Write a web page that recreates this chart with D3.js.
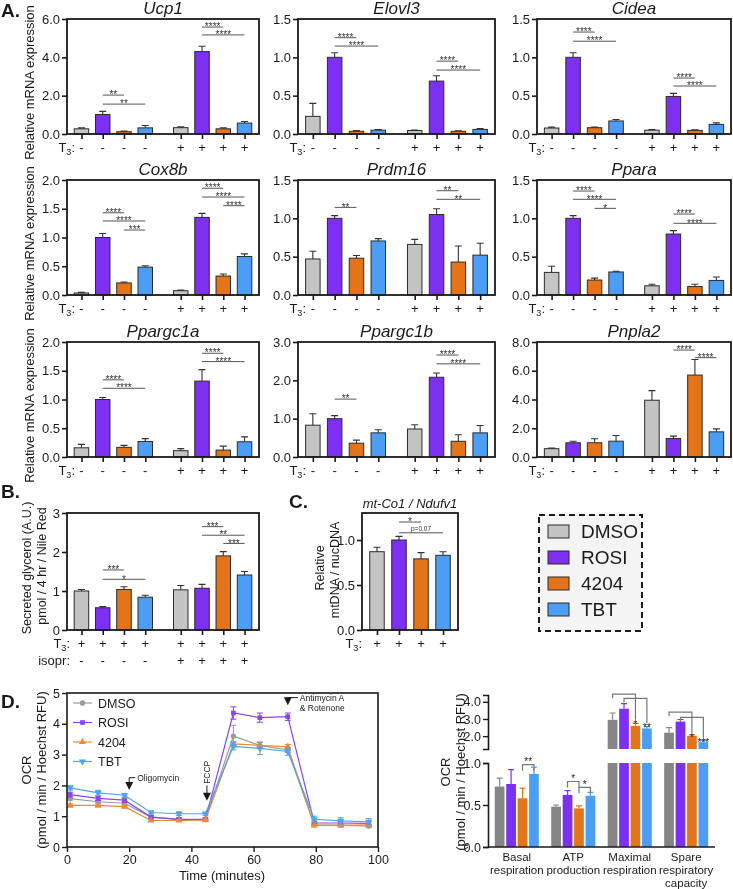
<!DOCTYPE html>
<html><head><meta charset="utf-8">
<script src="https://cdn.jsdelivr.net/npm/d3@7"></script>
<style>body{margin:0;background:#fff;} svg{display:block;font-family:"Liberation Sans",Arial,Helvetica,sans-serif;will-change:transform;}</style>
</head><body><svg id="c" width="733" height="889"></svg>
<script>
const treatments = ["DMSO","ROSI","4204","TBT"];
const fills = ["#c4c4c4","#7d2ff2","#e3741a","#4b9df5"];
const t3Row = ["-","-","-","-","+","+","+","+"];
const isoprRow = ["-","-","-","-","+","+","+","+"];
const barSlots = [0,1,2,3,4.67,5.67,6.67,7.67];

const Ucp1 = [0.27,1.02,0.12,0.32, 0.33,4.3,0.27,0.57];
const Ucp1Err = [0.05,0.16,0.04,0.12, 0.04,0.28,0.05,0.08];
const Ucp1Sig = [[1,2,2.03,"**"],[1,3,1.56,"**"],[5,6,5.58,"****"],[5,7,5.17,"****"]];
const Elovl3 = [0.23,1.0,0.035,0.05, 0.045,0.69,0.035,0.06];
const Elovl3Err = [0.17,0.06,0.01,0.008, 0.008,0.07,0.008,0.012];
const Elovl3Sig = [[1,2,1.256,"****"],[1,3,1.147,"****"],[5,6,0.95,"****"],[5,7,0.834,"****"]];
const Cidea = [0.078,1.0,0.082,0.17, 0.05,0.49,0.047,0.125];
const CideaErr = [0.012,0.06,0.008,0.02, 0.008,0.04,0.008,0.02];
const CideaSig = [[1,2,1.33,"****"],[1,3,1.21,"****"],[5,6,0.73,"****"],[5,7,0.626,"****"]];
const Cox8b = [0.035,1.0,0.21,0.485, 0.075,1.35,0.33,0.67];
const Cox8bErr = [0.01,0.07,0.015,0.025, 0.01,0.07,0.035,0.045];
const Cox8bSig = [[1,2,1.43,"****"],[1,3,1.287,"****"],[2,3,1.13,"***"],[5,6,1.856,"****"],[5,7,1.704,"****"],[6,7,1.553,"****"]];
const Prdm16 = [0.47,1.0,0.48,0.705, 0.66,1.05,0.43,0.52];
const Prdm16Err = [0.1,0.035,0.035,0.03, 0.065,0.075,0.21,0.155];
const Prdm16Sig = [[1,2,1.143,"**"],[5,6,1.36,"**"],[5,7,1.248,"**"]];
const Ppara = [0.295,1.0,0.195,0.3, 0.12,0.795,0.11,0.19];
const PparaErr = [0.08,0.035,0.025,0.01, 0.02,0.045,0.03,0.045];
const PparaSig = [[1,2,1.356,"****"],[1,3,1.248,"****"],[2,3,1.13,"*"],[5,6,1.056,"****"],[5,7,0.935,"****"]];
const Ppargc1a = [0.16,1.0,0.168,0.27, 0.11,1.32,0.12,0.265];
const Ppargc1aErr = [0.06,0.035,0.035,0.05, 0.035,0.2,0.07,0.085];
const Ppargc1aSig = [[1,2,1.342,"****"],[1,3,1.195,"****"],[5,6,1.804,"****"],[5,7,1.659,"****"]];
const Ppargc1b = [0.83,1.0,0.36,0.63, 0.73,2.08,0.41,0.63];
const Ppargc1bErr = [0.3,0.08,0.08,0.08, 0.11,0.11,0.17,0.19];
const Ppargc1bSig = [[1,2,1.51,"**"],[5,6,2.66,"****"],[5,7,2.43,"****"]];
const Pnpla2 = [0.58,0.99,0.99,1.1, 3.95,1.29,5.7,1.75];
const Pnpla2Err = [0.04,0.11,0.28,0.4, 0.67,0.16,1.08,0.21];
const Pnpla2Sig = [[5,6,7.44,"****"],[6,7,6.91,"****"]];

const glycerol = [1.0,0.57,1.04,0.84, 1.03,1.07,1.9,1.41];
const glycerolErr = [0.04,0.03,0.07,0.05, 0.11,0.1,0.11,0.09];
const glycerolSig = [[1,2,1.54,"***"],[1,3,1.3,"*"],[5,6,2.65,"***"],[5,7,2.43,"**"],[6,7,2.22,"***"]];

const mtDNA = [0.87,1.0,0.79,0.83];
const mtDNAErr = [0.05,0.04,0.07,0.04];
const mtDNASig = [[1,2,1.2,"*"],[1,3,1.08,"p=0.07"]];

const timeMin = [1,10,18.5,27,36,44.5,53.5,62,71,79.5,88,97];
const ocrDMSO = [1.57,1.47,1.42,0.97,0.9,0.89,3.6,3.3,3.15,0.72,0.71,0.68];
const ocrDMSOErr = [0.05,0.05,0.05,0.04,0.04,0.03,0.35,0.1,0.08,0.05,0.05,0.05];
const ocrROSI = [1.7,1.58,1.52,0.97,0.9,0.9,4.35,4.2,4.23,0.78,0.78,0.77];
const ocrROSIErr = [0.08,0.07,0.07,0.05,0.04,0.04,0.2,0.15,0.12,0.06,0.06,0.06];
const ocr4204 = [1.35,1.35,1.31,0.86,0.86,0.87,3.35,3.3,3.25,0.7,0.7,0.72];
const ocr4204Err = [0.05,0.05,0.04,0.03,0.03,0.03,0.08,0.1,0.08,0.03,0.03,0.03];
const ocrTBT = [1.92,1.76,1.68,1.12,1.08,1.08,3.27,3.2,3.1,0.9,0.85,0.82];
const ocrTBTErr = [0.07,0.08,0.06,0.05,0.06,0.05,0.12,0.2,0.12,0.1,0.1,0.1];

const respCats = ["Basal respiration","ATP production","Maximal respiration","Spare respiratory capacity"];
const respDMSO = [0.72,0.48,2.95,2.2];
const respDMSOErr = [0.1,0.02,0.4,0.3];
const respROSI = [0.75,0.62,3.6,2.85];
const respROSIErr = [0.17,0.05,0.3,0.12];
const resp4204 = [0.58,0.46,2.6,2.02];
const resp4204Err = [0.12,0.03,0.15,0.05];
const respTBT = [0.87,0.61,2.45,1.65];
const respTBTErr = [0.08,0.04,0.1,0.1];
// [category, from treatment, to treatment, bracket level, label]
const respSig = [[0,2,3,0.98,"**"],[1,1,2,0.78,"*"],[1,2,3,0.71,"*"]];

const svg = d3.select("#c");
const INK = "#1a1a1a";

function t3Label(g, x, y, word) {
  const t = g.append("text").attr("x", x).attr("y", y).attr("text-anchor", "end").attr("font-size", 13).attr("fill", INK);
  t.append("tspan").text(word);
  t.append("tspan").attr("font-size", 9).attr("dy", 3).text("3");
  t.append("tspan").attr("dy", -3).text(":");
}

function barPanel(o) {
  const g = svg.append("g");
  const x = d3.scaleLinear().domain(o.xdom).range([o.x0, o.x1]);
  const y = d3.scaleLinear().domain([0, o.max]).range([o.y1, o.y0]);
  const bw = o.bw || 14.5;
  const data = o.means.map((m, i) => ({m, e: o.errs[i], s: o.slots[i], c: fills[i % 4]}));
  g.selectAll(null).data(data).join("path")
    .attr("d", d => `M${x(d.s)},${y(d.m)}V${y(d.m + d.e)}M${x(d.s) - 3.5},${y(d.m + d.e)}H${x(d.s) + 3.5}`)
    .attr("stroke", "#333").attr("stroke-width", 1.1).attr("fill", "none");
  g.selectAll(null).data(data).join("rect")
    .attr("x", d => x(d.s) - bw / 2).attr("y", d => y(d.m)).attr("width", bw).attr("height", d => y(0) - y(d.m))
    .attr("fill", d => d.c).attr("stroke", "#2b2b2b").attr("stroke-width", 1);
  const ya = g.append("g").attr("transform", `translate(${o.x0},0)`)
    .call(d3.axisLeft(y).tickValues(o.ticks).tickFormat(o.fmt).tickSize(5).tickPadding(2));
  ya.select(".domain").remove();
  ya.selectAll("line").attr("stroke", INK).attr("stroke-width", 1.6);
  ya.selectAll("text").attr("font-size", 13).attr("fill", INK).attr("font-family", null);
  const xa = g.append("g").attr("transform", `translate(0,${o.y1})`)
    .call(d3.axisBottom(x).tickValues(o.slots).tickFormat("").tickSize(5));
  xa.select(".domain").remove();
  xa.selectAll("line").attr("stroke", INK).attr("stroke-width", 1.6);
  g.append("rect").attr("x", o.x0).attr("y", o.y0).attr("width", o.x1 - o.x0).attr("height", o.y1 - o.y0)
    .attr("fill", "none").attr("stroke", INK).attr("stroke-width", 1.8);
  if (o.title) g.append("text").attr("x", (o.x0 + o.x1) / 2).attr("y", o.y0 - 5).attr("text-anchor", "middle")
    .attr("font-size", o.titleSize || 17).attr("font-style", "italic").attr("fill", INK).text(o.title);
  (o.sig || []).forEach(([i, j, lv, lab]) => {
    const xa_ = x(o.slots[i]), xb = x(o.slots[j]), yy = y(lv);
    g.append("line").attr("x1", xa_).attr("x2", xb).attr("y1", yy).attr("y2", yy).attr("stroke", "#555").attr("stroke-width", 1);
    const small = lab.startsWith("p");
    g.append("text").attr("x", (xa_ + xb) / 2).attr("y", small ? yy - 2 : yy + 3.2).attr("text-anchor", "middle")
      .attr("font-size", small ? 6.5 : 10).attr("fill", "#333").text(lab);
  });
  (o.rows || []).forEach((r, k) => {
    const yy = o.y1 + 18 + k * 17;
    if (r.word === "T") t3Label(g, o.x0 + o.rowLabDx, yy, "T");
    else g.append("text").attr("x", o.x0 + o.rowLabDx).attr("y", yy).attr("text-anchor", "end").attr("font-size", 13).attr("fill", INK).text(r.word);
    g.selectAll(null).data(r.vals).join("text").attr("x", (d, i) => x(o.slots[i])).attr("y", yy)
      .attr("text-anchor", "middle").attr("font-size", 13).attr("fill", INK).text(d => d);
  });
  return {x, y, g};
}

const cols = [[67, 259], [298, 495], [537, 731]];
const rowsTop = [19, 180, 342];
const H = 115;
const f1 = d3.format(".1f");
const genes = [
  ["Ucp1", Ucp1, Ucp1Err, Ucp1Sig, 6, [0, 2, 4, 6]],
  ["Elovl3", Elovl3, Elovl3Err, Elovl3Sig, 1.5, [0, 0.5, 1, 1.5]],
  ["Cidea", Cidea, CideaErr, CideaSig, 1.5, [0, 0.5, 1, 1.5]],
  ["Cox8b", Cox8b, Cox8bErr, Cox8bSig, 2, [0, 0.5, 1, 1.5, 2]],
  ["Prdm16", Prdm16, Prdm16Err, Prdm16Sig, 1.5, [0, 0.5, 1, 1.5]],
  ["Ppara", Ppara, PparaErr, PparaSig, 1.5, [0, 0.5, 1, 1.5]],
  ["Ppargc1a", Ppargc1a, Ppargc1aErr, Ppargc1aSig, 2, [0, 0.5, 1, 1.5, 2]],
  ["Ppargc1b", Ppargc1b, Ppargc1bErr, Ppargc1bSig, 3, [0, 1, 2, 3]],
  ["Pnpla2", Pnpla2, Pnpla2Err, Pnpla2Sig, 8, [0, 2, 4, 6, 8]]
];
genes.forEach((gd, k) => {
  const c = cols[k % 3], top = rowsTop[Math.floor(k / 3)];
  barPanel({title: gd[0], means: gd[1], errs: gd[2], sig: gd[3], max: gd[4], ticks: gd[5], fmt: f1,
    x0: c[0], x1: c[1], y0: top, y1: top + H, xdom: [-0.68, 8.35], slots: barSlots,
    rows: [{word: "T", vals: t3Row}], rowLabDx: 8});
});
rowsTop.forEach(t => {
  svg.append("text").attr("transform", `translate(34,${t + H / 2 + 6}) rotate(-90)`).attr("text-anchor", "middle")
    .attr("font-size", 13).attr("fill", INK).text("Relative mRNA expression");
});

// Panel B
barPanel({means: glycerol, errs: glycerolErr, sig: glycerolSig, max: 3, ticks: [0, 1, 2, 3], fmt: d3.format("d"),
  x0: 67, x1: 259, y0: 513, y1: 630, xdom: [-0.68, 8.35], slots: barSlots,
  rows: [{word: "T", vals: ["+","+","+","+","+","+","+","+"]}, {word: "isopr:", vals: isoprRow}], rowLabDx: 3});
svg.append("text").attr("transform", "translate(31,568) rotate(-90)").attr("text-anchor", "middle").attr("font-size", 12.5).attr("fill", INK).text("Secreted glycerol (A.U.)");
svg.append("text").attr("transform", "translate(46,566) rotate(-90)").attr("text-anchor", "middle").attr("font-size", 12.5).attr("fill", INK).text("pmol / 4 hr / Nile Red");

// Panel C
barPanel({title: "mt-Co1 / Ndufv1", titleSize: 13, means: mtDNA, errs: mtDNAErr, sig: mtDNASig, max: 1.3, ticks: [0, 0.5, 1], fmt: f1,
  x0: 362, x1: 458, y0: 513, y1: 630, xdom: [-0.68, 3.68], slots: [0, 1, 2, 3],
  rows: [{word: "T", vals: ["+","+","+","+"]}], rowLabDx: 0});
svg.append("text").attr("transform", "translate(324,568) rotate(-90)").attr("text-anchor", "middle").attr("font-size", 12.5).attr("fill", INK).text("Relative");
svg.append("text").attr("transform", "translate(339,570) rotate(-90)").attr("text-anchor", "middle").attr("font-size", 12.5).attr("fill", INK).text("mtDNA / nucDNA");

// Panel labels
[["A.", 1, 17], ["B.", 1, 498], ["C.", 289, 508], ["D.", 1, 708]].forEach(([t, x, y]) =>
  svg.append("text").attr("x", x).attr("y", y).attr("font-size", 19).attr("font-weight", "bold").attr("fill", INK).text(t));

// Legend
const lg = svg.append("g");
lg.append("rect").attr("x", 539).attr("y", 515).attr("width", 103).attr("height", 116).attr("fill", "#f4f4f4")
  .attr("stroke", INK).attr("stroke-width", 2).attr("stroke-dasharray", "6,4");
treatments.forEach((t, i) => {
  const yy = 525 + i * 26;
  lg.append("rect").attr("x", 548).attr("y", yy).attr("width", 21).attr("height", 13).attr("fill", fills[i]).attr("stroke", "#2b2b2b");
  lg.append("text").attr("x", 581).attr("y", yy + 13).attr("font-size", 19).attr("fill", INK).text(t);
});

// Panel D line chart
{
  const g = svg.append("g");
  const x = d3.scaleLinear().domain([0, 100]).range([67, 378]);
  const y = d3.scaleLinear().domain([0, 5]).range([847, 693]);
  const series = [
    {n: "DMSO", v: ocrDMSO, e: ocrDMSOErr, c: "#9a9a9a", sym: d3.symbolCircle},
    {n: "ROSI", v: ocrROSI, e: ocrROSIErr, c: "#8b45f0", sym: d3.symbolSquare},
    {n: "4204", v: ocr4204, e: ocr4204Err, c: "#ec8a36", sym: d3.symbolTriangle},
    {n: "TBT", v: ocrTBT, e: ocrTBTErr, c: "#4fa3f3", sym: d3.symbolTriangle, flip: true}
  ];
  const line = d3.line().x((d, i) => x(timeMin[i])).y(d => y(d));
  series.forEach(s => {
    g.append("path").attr("d", line(s.v)).attr("fill", "none").attr("stroke", s.c).attr("stroke-width", 1.2);
    s.v.forEach((v, i) => {
      const xx = x(timeMin[i]);
      g.append("path").attr("d", `M${xx},${y(v - s.e[i])}V${y(v + s.e[i])}M${xx - 3},${y(v + s.e[i])}H${xx + 3}M${xx - 3},${y(v - s.e[i])}H${xx + 3}`)
        .attr("stroke", s.c).attr("stroke-width", 1).attr("fill", "none");
      g.append("path").attr("d", d3.symbol(s.sym, 22)()).attr("transform", `translate(${xx},${y(v)})${s.flip ? " rotate(180)" : ""}`).attr("fill", s.c);
    });
  });
  const ya = g.append("g").attr("transform", "translate(67,0)").call(d3.axisLeft(y).ticks(5).tickSize(5).tickPadding(2));
  ya.select(".domain").remove();
  const xa = g.append("g").attr("transform", "translate(0,847)").call(d3.axisBottom(x).tickValues([0, 20, 40, 60, 80, 100]).tickSize(5));
  xa.select(".domain").remove();
  [ya, xa].forEach(a => { a.selectAll("line").attr("stroke", INK).attr("stroke-width", 1.4); a.selectAll("text").attr("font-size", 12.5).attr("fill", INK).attr("font-family", null); });
  g.append("rect").attr("x", 67).attr("y", 693).attr("width", 311).attr("height", 154).attr("fill", "none").attr("stroke", INK).attr("stroke-width", 1.6);
  g.append("text").attr("x", 222).attr("y", 880).attr("text-anchor", "middle").attr("font-size", 13).attr("fill", INK).text("Time (minutes)");
  g.append("text").attr("transform", "translate(31,770) rotate(-90)").attr("text-anchor", "middle").attr("font-size", 13).attr("fill", INK).text("OCR");
  g.append("text").attr("transform", "translate(46,770) rotate(-90)").attr("text-anchor", "middle").attr("font-size", 13).attr("fill", INK).text("(pmol / min / Hoechst RFU)");
  series.forEach((s, i) => {
    const yy = 703 + i * 19.5;
    g.append("line").attr("x1", 73).attr("x2", 92).attr("y1", yy).attr("y2", yy).attr("stroke", s.c).attr("stroke-width", 1.2);
    g.append("path").attr("d", d3.symbol(s.sym, 22)()).attr("transform", `translate(82.5,${yy})${s.flip ? " rotate(180)" : ""}`).attr("fill", s.c);
    g.append("text").attr("x", 98).attr("y", yy + 4.5).attr("font-size", 12.5).attr("fill", INK).text(s.n);
  });
  const arrow = (xx, yTip) => g.append("path").attr("d", `M${xx - 4},${yTip - 8}H${xx + 4}L${xx},${yTip}Z`).attr("fill", INK);
  let ax = x(20), tip = y(1.85);
  arrow(ax, tip);
  g.append("path").attr("d", `M${ax},${tip - 6}V${y(2.25)}H${ax + 6}`).attr("stroke", INK).attr("fill", "none");
  g.append("text").attr("x", ax + 8).attr("y", y(2.25) + 3).attr("font-size", 8.5).attr("fill", INK).text("Oligomycin");
  ax = x(45); tip = y(1.5);
  arrow(ax, tip);
  g.append("path").attr("d", `M${ax},${tip - 6}V${y(2.0)}`).attr("stroke", INK).attr("fill", "none");
  g.append("text").attr("transform", `translate(${ax + 3},${y(2.05)}) rotate(-90)`).attr("font-size", 8.5).attr("fill", INK).text("FCCP");
  ax = x(71); tip = y(4.6);
  arrow(ax, tip);
  g.append("path").attr("d", `M${ax},${tip - 6}V${y(4.85)}H${ax + 10}`).attr("stroke", INK).attr("fill", "none");
  g.append("text").attr("x", ax + 12).attr("y", y(4.85) + 3).attr("font-size", 8.5).attr("fill", INK).text("Antimycin A");
  g.append("text").attr("x", ax + 12).attr("y", y(4.85) + 13).attr("font-size", 8.5).attr("fill", INK).text("& Rotenone");
}

// Panel D bar chart (broken axis)
{
  const g = svg.append("g");
  const x0 = 488, x1 = 715;
  const xc = d3.scaleBand().domain(respCats).range([x0, x1]).paddingInner(0.22).paddingOuter(0.12);
  const xs = d3.scaleBand().domain(treatments).range([0, xc.bandwidth()]).paddingInner(0.15);
  const yLo = d3.scaleLinear().domain([0, 1]).range([847, 763]);
  const yHi = d3.scaleLinear().domain([1.25, 4.4]).range([749, 695]);
  const dfill = ["#858585", "#7d2ff2", "#e3741a", "#4b9df5"];
  const sets = [[respDMSO, respDMSOErr], [respROSI, respROSIErr], [resp4204, resp4204Err], [respTBT, respTBTErr]];
  const cx = (i, k) => xc(respCats[i]) + xs(treatments[k]) + xs.bandwidth() / 2;
  sets.forEach(([vals, errs], k) => {
    vals.forEach((v, i) => {
      const w = xs.bandwidth(), bx = cx(i, k) - w / 2, c = cx(i, k);
      if (v <= 1) {
        g.append("rect").attr("x", bx).attr("y", yLo(v)).attr("width", w).attr("height", yLo(0) - yLo(v)).attr("fill", dfill[k]);
        g.append("path").attr("d", `M${c},${yLo(v)}V${yLo(v + errs[i])}M${c - 3},${yLo(v + errs[i])}H${c + 3}`).attr("stroke", dfill[k]).attr("stroke-width", 1.2);
      } else {
        g.append("rect").attr("x", bx).attr("y", yLo(1)).attr("width", w).attr("height", yLo(0) - yLo(1)).attr("fill", dfill[k]);
        g.append("rect").attr("x", bx).attr("y", yHi(v)).attr("width", w).attr("height", yHi(1.25) - yHi(v)).attr("fill", dfill[k]);
        g.append("path").attr("d", `M${c},${yHi(v)}V${yHi(v + errs[i])}M${c - 3},${yHi(v + errs[i])}H${c + 3}`).attr("stroke", dfill[k]).attr("stroke-width", 1.2);
      }
    });
  });
  respSig.forEach(([i, a, b, lv, lab]) => {
    const xa_ = cx(i, a), xb = cx(i, b), yy = yLo(lv);
    g.append("path").attr("d", `M${xa_},${yy + 6}V${yy}H${xb}V${yy + 6}`).attr("stroke", "#777").attr("stroke-width", 1.2).attr("fill", "none");
    g.append("text").attr("x", (xa_ + xb) / 2).attr("y", yy + 0.5).attr("text-anchor", "middle").attr("font-size", 10).attr("fill", INK).text(lab);
  });
  const hb = (i, kFrom, kTo, lvTop, lvEnd, lab) => {
    const xa_ = cx(i, kFrom), xb = cx(i, kTo);
    g.append("path").attr("d", `M${xa_},${yHi(lvTop) + 4}V${yHi(lvTop)}H${xb}V${yHi(lvEnd)}`).attr("stroke", "#777").attr("stroke-width", 1.2).attr("fill", "none");
    g.append("text").attr("x", xb).attr("y", yHi(lvEnd) + 8).attr("text-anchor", "middle").attr("font-size", 10).attr("fill", INK).text(lab);
  };
  hb(2, 0, 2, 4.45, 2.95, "*");
  hb(2, 1, 3, 4.2, 2.75, "**");
  hb(3, 0, 2, 3.4, 2.2, "*");
  hb(3, 1, 3, 3.1, 1.9, "***");
  const ya = g.append("g").attr("transform", `translate(${x0},0)`).call(d3.axisLeft(yLo).tickValues([0, 0.5, 1]).tickFormat(d3.format(".1f")).tickSize(5).tickPadding(2));
  const yb = g.append("g").attr("transform", `translate(${x0},0)`).call(d3.axisLeft(yHi).tickValues([2, 3, 4]).tickFormat(d3.format(".1f")).tickSize(5).tickPadding(2));
  [ya, yb].forEach(a => { a.select(".domain").attr("stroke", INK).attr("stroke-width", 1.6); a.selectAll("line").attr("stroke", INK).attr("stroke-width", 1.4); a.selectAll("text").attr("font-size", 12.5).attr("fill", INK).attr("font-family", null); });
  g.append("line").attr("x1", x0).attr("x2", x1).attr("y1", 847).attr("y2", 847).attr("stroke", INK).attr("stroke-width", 1.6);
  const labs = [["Basal", "respiration"], ["ATP", "production"], ["Maximal", "respiration"], ["Spare", "respiratory", "capacity"]];
  respCats.forEach((c, i) => {
    labs[i].forEach((l, j) => g.append("text").attr("x", xc(c) + xc.bandwidth() / 2).attr("y", 861 + j * 13).attr("text-anchor", "middle").attr("font-size", 11.5).attr("fill", INK).text(l));
  });
  g.append("text").attr("transform", "translate(450,772) rotate(-90)").attr("text-anchor", "middle").attr("font-size", 13).attr("fill", INK).text("OCR");
  g.append("text").attr("transform", "translate(465,772) rotate(-90)").attr("text-anchor", "middle").attr("font-size", 13).attr("fill", INK).text("(pmol / min / Hoechst RFU)");
}
</script></body></html>
